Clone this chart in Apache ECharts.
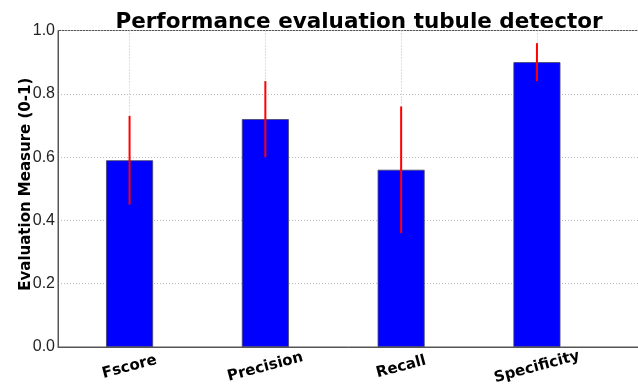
<!DOCTYPE html>
<html><head><meta charset="utf-8">
<script src="https://cdn.jsdelivr.net/npm/echarts@6/dist/echarts.min.js"></script>
<style>html,body{margin:0;padding:0;background:#fff}#c{width:638px;height:385px}</style>
</head><body><div id="c"></div>
<script>
var categories = ['Fscore', 'Precision', 'Recall', 'Specificity'];
var values = [0.59, 0.72, 0.56, 0.90];
var errors = [0.14, 0.12, 0.20, 0.06];
var yTicks = [0.0, 0.2, 0.4, 0.6, 0.8, 1.0];

var chart = echarts.init(document.getElementById('c'), null, {renderer: 'canvas'});
var barData = values.map(function (v, i) { return [i, v]; });
var errData = values.map(function (v, i) { return [i, v - errors[i], v + errors[i]]; });

chart.setOption({
  animation: false,
  title: {
    text: 'Performance evaluation tubule detector',
    left: 354, textAlign: 'center', top: 6,
    textStyle: {fontFamily: 'DejaVu Sans', fontWeight: 'bold', fontSize: 21.5, color: '#000'}
  },
  grid: {left: 58, right: -2, top: 30.5, bottom: 38, show: true, borderColor: '#555', borderWidth: 1,
         backgroundColor: 'transparent', containLabel: false, outerBoundsMode: 'none'},
  xAxis: {
    type: 'value', min: -0.527, max: 3.759,
    axisLine: {show: true, onZero: false, lineStyle: {color: '#555', width: 1}},
    axisTick: {show: false, customValues: [0, 1, 2, 3]},
    axisLabel: {
      customValues: [0, 1, 2, 3],
      formatter: function (v) { return categories[Math.round(v)]; },
      rotate: 15, align: 'center', verticalAlign: 'middle', margin: 20,
      fontFamily: 'DejaVu Sans', fontWeight: 'bold', fontSize: 15, color: '#000',
      showMinLabel: true, showMaxLabel: true
    },
    splitLine: {show: true, lineStyle: {color: '#bbb', type: [1, 2], width: 1}}
  },
  yAxis: {
    type: 'value', min: 0, max: 1, interval: 0.2,
    name: 'Evaluation Measure (0-1)', nameLocation: 'middle', nameGap: 24, nameMoveOverlap: false,
    nameTextStyle: {fontFamily: 'DejaVu Sans', fontWeight: 'bold', fontSize: 15, color: '#000', padding: [0, 0, 0, 9]},
    axisLine: {show: true, onZero: false, lineStyle: {color: '#555', width: 1}},
    axisTick: {show: false},
    axisLabel: {formatter: function (v) { return v.toFixed(1); }, fontFamily: 'Liberation Sans', fontSize: 16, color: '#222', margin: 3},
    splitLine: {show: true, lineStyle: {color: '#bbb', type: [1, 2], width: 1}}
  },
  series: [
    {
      type: 'bar', data: barData, barWidth: 47,
      itemStyle: {color: '#0000ff', borderColor: '#444466', borderWidth: 0.8},
      z: 2
    },
    {
      type: 'custom', data: errData, z: 3,
      renderItem: function (params, api) {
        var x = api.value(0);
        var lo = api.coord([x, api.value(1)]);
        var hi = api.coord([x, api.value(2)]);
        return {type: 'line', shape: {x1: lo[0], y1: lo[1], x2: hi[0], y2: hi[1]},
                style: {stroke: '#ff0000', lineWidth: 2}};
      }
    }
  ]
});
</script></body></html>
